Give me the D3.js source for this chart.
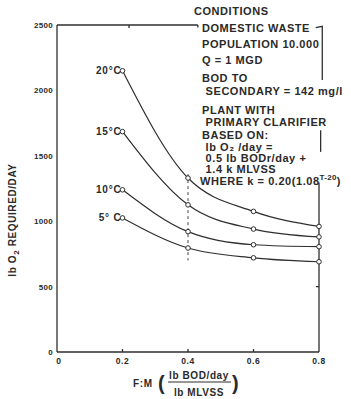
<!DOCTYPE html>
<html><head><meta charset="utf-8">
<script src="https://cdn.jsdelivr.net/npm/d3@7"></script>
<style>
html,body{margin:0;padding:0;background:#fff;}
svg text{font-family:"Liberation Sans",Arial,sans-serif;font-weight:bold;fill:#2a2a2a;}
</style></head>
<body>
<svg id="c" width="351" height="399"></svg>
<script>
const fmValues = [0.2, 0.4, 0.6, 0.8];
const seriesNames = ["20°C", "15°C", "10°C", "5° C"];
const o2_20C = [2150, 1330, 1075, 960];
const o2_15C = [1685, 1125, 940, 880];
const o2_10C = [1240, 920, 820, 805];
const o2_5C  = [1025, 795, 720, 690];
const yTicks = [0, 500, 1000, 1500, 2000, 2500];
const xTicks = [0, 0.2, 0.4, 0.6, 0.8];
const conditions = [
  "DOMESTIC WASTE", "POPULATION 10.000", "Q = 1 MGD", "BOD TO", " SECONDARY = 142 mg/l",
  "PLANT WITH", " PRIMARY CLARIFIER", "BASED ON:", " lb O₂ /day =", " 0.5 lb BODr/day +", " 1.4 k MLVSS"
];

const svg = d3.select("#c");
const x = d3.scaleLinear().domain([0, 0.8]).range([57, 319]);
const y = d3.scaleLinear().domain([0, 2500]).range([352, 25]);
const ink = "#2e2e2e";

// frame
const g = svg.append("g").attr("stroke", ink).attr("fill", "none").attr("stroke-width", 1.3);
g.append("line").attr("x1", x(0)).attr("x2", x(0)).attr("y1", y(0)).attr("y2", y(2500));
g.append("line").attr("x1", x(0)).attr("x2", x(0.8)).attr("y1", y(0)).attr("y2", y(0));
g.append("line").attr("x1", x(0)).attr("x2", x(0.43)).attr("y1", y(2500)).attr("y2", y(2500));
g.append("line").attr("x1", x(0.43)).attr("x2", x(0.43)).attr("y1", y(2500)).attr("y2", y(2480));
// right bracket segments
g.append("path").attr("d", `M${x(0.79)},${y(2480)}L${x(0.81)},${y(2490)}L${x(0.81)},${y(2080)}`);
g.append("line").attr("x1", x(0.805)).attr("x2", x(0.805)).attr("y1", y(1695)).attr("y2", y(1530));
g.append("line").attr("x1", x(0.8)).attr("x2", x(0.8)).attr("y1", y(1295)).attr("y2", y(0));

// ticks inward
xTicks.slice(1, 4).forEach(t => {
  g.append("line").attr("x1", x(t)).attr("x2", x(t)).attr("y1", y(0)).attr("y2", y(0) - 3);
});
g.append("line").attr("x1", x(0.22)).attr("x2", x(0.22)).attr("y1", y(2500)).attr("y2", y(2500) + 3);
g.append("line").attr("x1", x(0.8)).attr("x2", x(0.8) - 3).attr("y1", y(500)).attr("y2", y(500));

// dashed guide at 0.4
svg.append("line").attr("x1", x(0.4)).attr("x2", x(0.4)).attr("y1", y(1360)).attr("y2", y(700))
  .attr("stroke", ink).attr("stroke-width", 0.9).attr("stroke-dasharray", "3,3");

// tick labels
svg.append("g").selectAll("text").data(yTicks).join("text")
  .attr("x", 53).attr("y", d => y(d) + 3).attr("text-anchor", "end")
  .attr("font-size", 8).attr("letter-spacing", 0.3).text(d => d);
svg.append("g").selectAll("text").data(xTicks).join("text")
  .attr("x", d => x(d) + (d === 0 ? 2 : 0)).attr("y", 364).attr("text-anchor", "middle")
  .attr("font-size", 8.5).attr("letter-spacing", 0.6).text(d => d === 0 ? "0" : d.toFixed(1));

// curves
const series = [o2_20C, o2_15C, o2_10C, o2_5C];
const line = d3.line().x((d, i) => x(fmValues[i])).y(d => y(d)).curve(d3.curveMonotoneX);
series.forEach((s, k) => {
  svg.append("path").attr("d", line(s)).attr("fill", "none").attr("stroke", ink).attr("stroke-width", 1.2);
  svg.append("g").selectAll("circle").data(s).join("circle")
    .attr("cx", (d, i) => x(fmValues[i])).attr("cy", d => y(d)).attr("r", 2.3)
    .attr("fill", "#fff").attr("stroke", ink).attr("stroke-width", 1);
  svg.append("text").attr("x", x(fmValues[0]) - 1).attr("y", y(s[0]) + 3.5)
    .attr("text-anchor", "end").attr("font-size", 10).attr("letter-spacing", 0.8).text(seriesNames[k]);
});

// conditions text
const tx = svg.append("g").attr("font-size", 11).attr("letter-spacing", 0.55);
tx.append("text").attr("x", 194).attr("y", 15).text("CONDITIONS");
const ys = [32, 48, 64, 82, 95, 114, 126, 139, 151, 162, 173];
conditions.forEach((t, i) => {
  tx.append("text").attr("x", 202).attr("y", ys[i]).attr("xml:space", "preserve").text(t);
});
const w = tx.append("text").attr("x", 200).attr("y", 185);
w.append("tspan").text("WHERE k = 0.20(1.08");
w.append("tspan").attr("dy", -5).attr("font-size", 8).attr("letter-spacing", 0.3).text("T-20");
w.append("tspan").attr("dy", 5).text(")");

// y axis title
const yt = svg.append("text").attr("transform", "translate(16,220) rotate(-90)")
  .attr("text-anchor", "middle").attr("font-size", 10).attr("letter-spacing", 0.6);
yt.append("tspan").text("lb O");
yt.append("tspan").attr("dy", 3).attr("font-size", 8).text("2");
yt.append("tspan").attr("dy", -3).text(" REQUIRED/DAY");

// x axis title
const xt = svg.append("g").attr("font-size", 10).attr("letter-spacing", 0.6);
xt.append("text").attr("x", 133).attr("y", 387).text("F:M");
xt.append("text").attr("x", 199).attr("y", 379).attr("text-anchor", "middle").text("lb BOD/day");
xt.append("text").attr("x", 199).attr("y", 396).attr("text-anchor", "middle").text("lb MLVSS");
svg.append("line").attr("x1", 168).attr("x2", 231).attr("y1", 382).attr("y2", 382)
  .attr("stroke", ink).attr("stroke-width", 1.2);
svg.append("text").attr("x", 158).attr("y", 390).attr("font-size", 20).attr("font-weight", "normal").text("(");
svg.append("text").attr("x", 232).attr("y", 390).attr("font-size", 20).attr("font-weight", "normal").text(")");
</script>
</body></html>
